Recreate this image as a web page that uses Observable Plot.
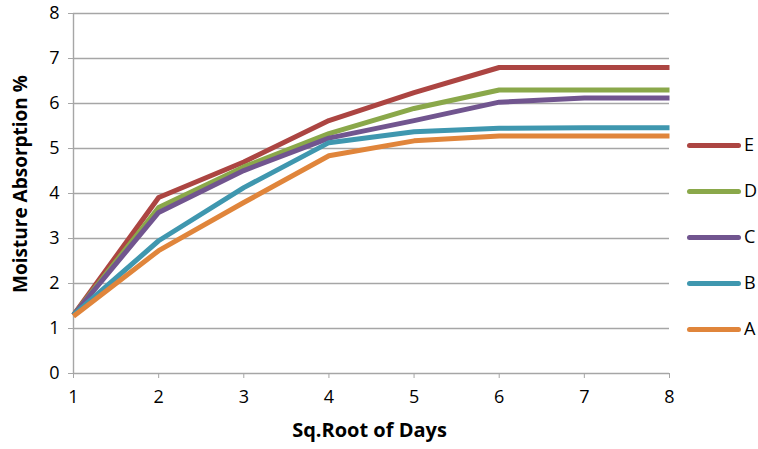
<!DOCTYPE html>
<html>
<head>
<meta charset="utf-8">
<script src="https://cdn.jsdelivr.net/npm/d3@7"></script>
<script src="https://cdn.jsdelivr.net/npm/@observablehq/plot@0.6"></script>
<style>
  html, body { margin: 0; padding: 0; background: #fff; }
  #wrap { position: relative; width: 758px; height: 449px; font-family: "Open Sans", Lato, sans-serif; }
  #legend { position: absolute; left: 687px; top: 0; }
  .item { position: absolute; left: 0; width: 80px; height: 20px; }
  .swatch { position: absolute; left: 0; top: 8px; width: 54px; height: 5px; border-radius: 3px; }
  .lbl { position: absolute; left: 57px; top: -3px; font-size: 18px; line-height: 24px; color: #000; }
</style>
</head>
<body>
<div id="wrap"><div id="legend"></div></div>
<script>
// x positions: square root of days
const sqrtDays = [1, 2, 3, 4, 5, 6, 7, 8];

// moisture absorption (%) for each sample
const seriesA = [1.27, 2.73, 3.80, 4.84, 5.17, 5.28, 5.28, 5.28];
const seriesB = [1.30, 2.95, 4.13, 5.13, 5.37, 5.45, 5.46, 5.46];
const seriesC = [1.30, 3.58, 4.51, 5.23, 5.62, 6.03, 6.12, 6.12];
const seriesD = [1.30, 3.69, 4.59, 5.33, 5.89, 6.30, 6.30, 6.30];
const seriesE = [1.30, 3.91, 4.70, 5.62, 6.24, 6.80, 6.80, 6.80];

const seriesNames = ["E", "D", "C", "B", "A"];
const seriesColors = ["#AC4542", "#8AA84A", "#71558F", "#3F97AF", "#E0853B"];
const yTicks = [0, 1, 2, 3, 4, 5, 6, 7, 8];

const valuesByName = { A: seriesA, B: seriesB, C: seriesC, D: seriesD, E: seriesE };
const rows = seriesNames.flatMap(name =>
  sqrtDays.map((x, i) => ({ name, x, y: valuesByName[name][i] }))
);

const chart = Plot.plot({
  width: 758,
  height: 449,
  marginLeft: 73,
  marginRight: 89,
  marginTop: 13,
  marginBottom: 76,
  style: { fontFamily: "'Open Sans', Lato, sans-serif", fontSize: "18px", color: "#000", background: "#fff" },
  x: { domain: [1, 8] },
  y: { domain: [0, 8] },
  color: { domain: seriesNames, range: seriesColors },
  marks: [
    Plot.gridY(yTicks.filter(t => t > 0), { stroke: "#A6A6A6", strokeOpacity: 1, strokeWidth: 1.4 }),
    Plot.ruleX([1], { stroke: "#A6A6A6", strokeWidth: 1.4 }),
    Plot.ruleY([0], { stroke: "#A6A6A6", strokeWidth: 1.4 }),
    Plot.axisY(yTicks, {
      tickSize: 5, tickPadding: 9, stroke: "#A6A6A6", fill: "#000",
      fontSize: 18, label: null
    }),
    Plot.axisX(sqrtDays, {
      tickSize: 5, tickPadding: 12, stroke: "#A6A6A6", fill: "#000",
      fontSize: 18, label: null
    }),
    Plot.text(["Moisture Absorption %"], {
      frameAnchor: "left", textAnchor: "middle", dx: -53, dy: -9.5, rotate: -90,
      fontWeight: "bold", fontSize: 19, fill: "#000"
    }),
    Plot.text(["Sq.Root of Days"], {
      frameAnchor: "bottom", dx: -2, dy: 63, fontWeight: "bold", fontSize: 20, fill: "#000"
    }),
    Plot.line(rows, {
      x: "x", y: "y", z: "name", stroke: "name",
      strokeWidth: 5, strokeLinejoin: "round", strokeLinecap: "butt"
    })
  ]
});
document.getElementById("wrap").prepend(chart);

// legend, listed E to A down the right side
const legend = document.getElementById("legend");
seriesNames.forEach((name, i) => {
  const item = document.createElement("div");
  item.className = "item";
  item.style.top = (135 + i * 46) + "px";
  const sw = document.createElement("div");
  sw.className = "swatch";
  sw.style.background = seriesColors[i];
  const lbl = document.createElement("div");
  lbl.className = "lbl";
  lbl.textContent = name;
  item.append(sw, lbl);
  legend.append(item);
});
</script>
</body>
</html>
